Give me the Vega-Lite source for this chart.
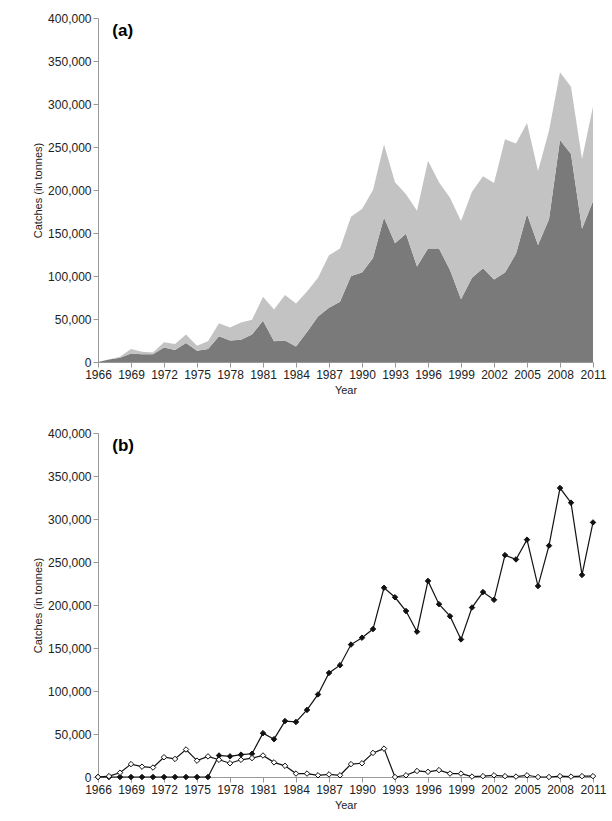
{
  "$schema": "https://vega.github.io/schema/vega-lite/v6.json",
  "padding": {"left": 32, "top": 12, "right": 14, "bottom": 2},
  "spacing": 32,
  "config": {
    "view": {"stroke": null},
    "font": "Liberation Sans",
    "axis": {
      "grid": false, "domainColor": "#999", "tickColor": "#999", "labelColor": "#222",
      "labelFontSize": 12, "titleFontSize": 11, "titleFontWeight": "normal", "titleColor": "#222"
    }
  },
  "datasets": {
    "areas": [
      {"year":1966,"group":"A","catch":0},{"year":1967,"group":"A","catch":3000},{"year":1968,"group":"A","catch":5000},{"year":1969,"group":"A","catch":10000},{"year":1970,"group":"A","catch":9000},{"year":1971,"group":"A","catch":9000},{"year":1972,"group":"A","catch":17000},{"year":1973,"group":"A","catch":14000},{"year":1974,"group":"A","catch":22000},{"year":1975,"group":"A","catch":13000},{"year":1976,"group":"A","catch":15000},{"year":1977,"group":"A","catch":30000},{"year":1978,"group":"A","catch":25000},{"year":1979,"group":"A","catch":26000},{"year":1980,"group":"A","catch":32000},{"year":1981,"group":"A","catch":48000},{"year":1982,"group":"A","catch":24000},{"year":1983,"group":"A","catch":25000},{"year":1984,"group":"A","catch":18000},{"year":1985,"group":"A","catch":35000},{"year":1986,"group":"A","catch":53000},{"year":1987,"group":"A","catch":63000},{"year":1988,"group":"A","catch":70000},{"year":1989,"group":"A","catch":100000},{"year":1990,"group":"A","catch":104000},{"year":1991,"group":"A","catch":121000},{"year":1992,"group":"A","catch":168000},{"year":1993,"group":"A","catch":138000},{"year":1994,"group":"A","catch":149000},{"year":1995,"group":"A","catch":111000},{"year":1996,"group":"A","catch":132000},{"year":1997,"group":"A","catch":132000},{"year":1998,"group":"A","catch":107000},{"year":1999,"group":"A","catch":73000},{"year":2000,"group":"A","catch":98000},{"year":2001,"group":"A","catch":109000},{"year":2002,"group":"A","catch":96000},{"year":2003,"group":"A","catch":104000},{"year":2004,"group":"A","catch":126000},{"year":2005,"group":"A","catch":172000},{"year":2006,"group":"A","catch":136000},{"year":2007,"group":"A","catch":166000},{"year":2008,"group":"A","catch":258000},{"year":2009,"group":"A","catch":242000},{"year":2010,"group":"A","catch":155000},{"year":2011,"group":"A","catch":187000},
      {"year":1966,"group":"B","catch":0},{"year":1967,"group":"B","catch":0},{"year":1968,"group":"B","catch":1000},{"year":1969,"group":"B","catch":5000},{"year":1970,"group":"B","catch":3000},{"year":1971,"group":"B","catch":2000},{"year":1972,"group":"B","catch":6000},{"year":1973,"group":"B","catch":7000},{"year":1974,"group":"B","catch":10000},{"year":1975,"group":"B","catch":6000},{"year":1976,"group":"B","catch":9000},{"year":1977,"group":"B","catch":15000},{"year":1978,"group":"B","catch":15000},{"year":1979,"group":"B","catch":20000},{"year":1980,"group":"B","catch":17000},{"year":1981,"group":"B","catch":28000},{"year":1982,"group":"B","catch":37000},{"year":1983,"group":"B","catch":53000},{"year":1984,"group":"B","catch":50000},{"year":1985,"group":"B","catch":47000},{"year":1986,"group":"B","catch":45000},{"year":1987,"group":"B","catch":61000},{"year":1988,"group":"B","catch":62000},{"year":1989,"group":"B","catch":69000},{"year":1990,"group":"B","catch":74000},{"year":1991,"group":"B","catch":79000},{"year":1992,"group":"B","catch":85000},{"year":1993,"group":"B","catch":71000},{"year":1994,"group":"B","catch":46000},{"year":1995,"group":"B","catch":65000},{"year":1996,"group":"B","catch":102000},{"year":1997,"group":"B","catch":77000},{"year":1998,"group":"B","catch":84000},{"year":1999,"group":"B","catch":91000},{"year":2000,"group":"B","catch":100000},{"year":2001,"group":"B","catch":107000},{"year":2002,"group":"B","catch":112000},{"year":2003,"group":"B","catch":155000},{"year":2004,"group":"B","catch":128000},{"year":2005,"group":"B","catch":106000},{"year":2006,"group":"B","catch":86000},{"year":2007,"group":"B","catch":103000},{"year":2008,"group":"B","catch":79000},{"year":2009,"group":"B","catch":78000},{"year":2010,"group":"B","catch":81000},{"year":2011,"group":"B","catch":110000}
    ],
    "lines": [
      {"year":1966,"series":"filled","catch":0},{"year":1967,"series":"filled","catch":0},{"year":1968,"series":"filled","catch":0},{"year":1969,"series":"filled","catch":0},{"year":1970,"series":"filled","catch":0},{"year":1971,"series":"filled","catch":0},{"year":1972,"series":"filled","catch":0},{"year":1973,"series":"filled","catch":0},{"year":1974,"series":"filled","catch":0},{"year":1975,"series":"filled","catch":0},{"year":1976,"series":"filled","catch":0},{"year":1977,"series":"filled","catch":25000},{"year":1978,"series":"filled","catch":24000},{"year":1979,"series":"filled","catch":26000},{"year":1980,"series":"filled","catch":27000},{"year":1981,"series":"filled","catch":51000},{"year":1982,"series":"filled","catch":44000},{"year":1983,"series":"filled","catch":65000},{"year":1984,"series":"filled","catch":64000},{"year":1985,"series":"filled","catch":78000},{"year":1986,"series":"filled","catch":96000},{"year":1987,"series":"filled","catch":121000},{"year":1988,"series":"filled","catch":130000},{"year":1989,"series":"filled","catch":154000},{"year":1990,"series":"filled","catch":162000},{"year":1991,"series":"filled","catch":172000},{"year":1992,"series":"filled","catch":220000},{"year":1993,"series":"filled","catch":209000},{"year":1994,"series":"filled","catch":193000},{"year":1995,"series":"filled","catch":169000},{"year":1996,"series":"filled","catch":228000},{"year":1997,"series":"filled","catch":201000},{"year":1998,"series":"filled","catch":187000},{"year":1999,"series":"filled","catch":160000},{"year":2000,"series":"filled","catch":197000},{"year":2001,"series":"filled","catch":215000},{"year":2002,"series":"filled","catch":206000},{"year":2003,"series":"filled","catch":258000},{"year":2004,"series":"filled","catch":253000},{"year":2005,"series":"filled","catch":276000},{"year":2006,"series":"filled","catch":222000},{"year":2007,"series":"filled","catch":269000},{"year":2008,"series":"filled","catch":336000},{"year":2009,"series":"filled","catch":319000},{"year":2010,"series":"filled","catch":235000},{"year":2011,"series":"filled","catch":296000},
      {"year":1966,"series":"open","catch":0},{"year":1967,"series":"open","catch":1000},{"year":1968,"series":"open","catch":5000},{"year":1969,"series":"open","catch":15000},{"year":1970,"series":"open","catch":12000},{"year":1971,"series":"open","catch":11000},{"year":1972,"series":"open","catch":23000},{"year":1973,"series":"open","catch":21000},{"year":1974,"series":"open","catch":32000},{"year":1975,"series":"open","catch":19000},{"year":1976,"series":"open","catch":24000},{"year":1977,"series":"open","catch":20000},{"year":1978,"series":"open","catch":16000},{"year":1979,"series":"open","catch":20000},{"year":1980,"series":"open","catch":22000},{"year":1981,"series":"open","catch":25000},{"year":1982,"series":"open","catch":17000},{"year":1983,"series":"open","catch":13000},{"year":1984,"series":"open","catch":4000},{"year":1985,"series":"open","catch":4000},{"year":1986,"series":"open","catch":2000},{"year":1987,"series":"open","catch":3000},{"year":1988,"series":"open","catch":2000},{"year":1989,"series":"open","catch":15000},{"year":1990,"series":"open","catch":16000},{"year":1991,"series":"open","catch":28000},{"year":1992,"series":"open","catch":33000},{"year":1993,"series":"open","catch":0},{"year":1994,"series":"open","catch":2000},{"year":1995,"series":"open","catch":7000},{"year":1996,"series":"open","catch":6000},{"year":1997,"series":"open","catch":8000},{"year":1998,"series":"open","catch":4000},{"year":1999,"series":"open","catch":4000},{"year":2000,"series":"open","catch":500},{"year":2001,"series":"open","catch":1000},{"year":2002,"series":"open","catch":2000},{"year":2003,"series":"open","catch":1000},{"year":2004,"series":"open","catch":500},{"year":2005,"series":"open","catch":2000},{"year":2006,"series":"open","catch":0},{"year":2007,"series":"open","catch":0},{"year":2008,"series":"open","catch":1000},{"year":2009,"series":"open","catch":500},{"year":2010,"series":"open","catch":1000},{"year":2011,"series":"open","catch":1000}
    ],
    "labelA": [{"year":1967.3,"catch":385000,"label":"(a)"}],
    "labelB": [{"year":1967.3,"catch":385000,"label":"(b)"}]
  },
  "vconcat": [
    {
      "width": 495, "height": 344,
      "encoding": {
        "x": {"field": "year", "type": "quantitative", "scale": {"domain": [1966, 2011], "nice": false}, "axis": {"values": [1966,1969,1972,1975,1978,1981,1984,1987,1990,1993,1996,1999,2002,2005,2008,2011], "format": "d", "title": "Year", "labelFlush": false}},
        "y": {"field": "catch", "type": "quantitative", "scale": {"domain": [0, 400000]}, "axis": {"format": ",.0f", "values": [0,50000,100000,150000,200000,250000,300000,350000,400000], "title": "Catches (in tonnes)"}}
      },
      "layer": [
        {
          "data": {"name": "areas"},
          "mark": {"type": "area", "opacity": 1},
          "encoding": {
            "y": {"field": "catch", "type": "quantitative", "stack": "zero"},
            "color": {"field": "group", "type": "nominal", "scale": {"domain": ["A", "B"], "range": ["#7a7a7a", "#c3c3c3"]}, "legend": null},
            "order": {"field": "group"}
          }
        },
        {
          "data": {"name": "labelA"},
          "mark": {"type": "text", "align": "left", "fontSize": 17, "fontWeight": "bold", "font": "Liberation Sans"},
          "encoding": {"text": {"field": "label"}}
        }
      ]
    },
    {
      "width": 495, "height": 344,
      "encoding": {
        "x": {"field": "year", "type": "quantitative", "scale": {"domain": [1966, 2011], "nice": false}, "axis": {"values": [1966,1969,1972,1975,1978,1981,1984,1987,1990,1993,1996,1999,2002,2005,2008,2011], "format": "d", "title": "Year", "labelFlush": false}},
        "y": {"field": "catch", "type": "quantitative", "scale": {"domain": [0, 400000]}, "axis": {"format": ",.0f", "values": [0,50000,100000,150000,200000,250000,300000,350000,400000], "title": "Catches (in tonnes)"}}
      },
      "layer": [
        {
          "data": {"name": "lines"},
          "mark": {"type": "line", "color": "#111", "strokeWidth": 1.2},
          "encoding": {"detail": {"field": "series"}}
        },
        {
          "data": {"name": "lines"},
          "mark": {"type": "point", "shape": "diamond", "size": 30, "filled": true, "stroke": "#111", "strokeWidth": 1, "opacity": 1},
          "encoding": {
            "fill": {"field": "series", "type": "nominal", "scale": {"domain": ["filled", "open"], "range": ["#111", "#ffffff"]}, "legend": null}
          }
        },
        {
          "data": {"name": "labelB"},
          "mark": {"type": "text", "align": "left", "fontSize": 17, "fontWeight": "bold", "font": "Liberation Sans"},
          "encoding": {"text": {"field": "label"}}
        }
      ]
    }
  ]
}
